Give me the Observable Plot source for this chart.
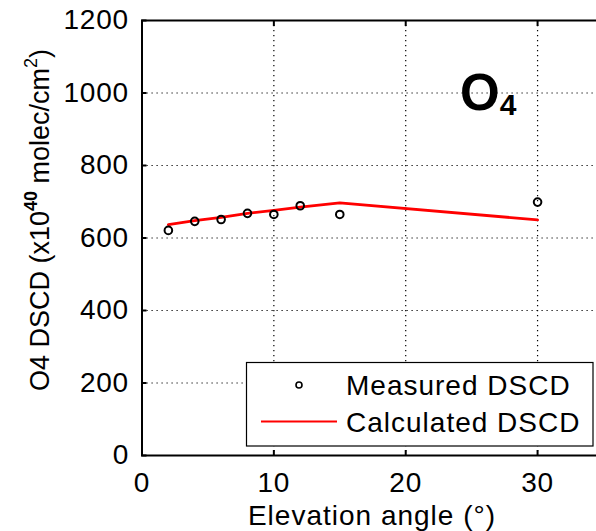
<!DOCTYPE html>
<html>
<head>
<meta charset="utf-8">
<script src="https://cdn.jsdelivr.net/npm/d3@7"></script>
<script src="https://cdn.jsdelivr.net/npm/@observablehq/plot@0.6"></script>
<style>
  html, body { margin: 0; padding: 0; background: white; overflow: hidden; }
  #chart { width: 596px; height: 531px; overflow: hidden; }
</style>
</head>
<body>
<div id="chart"></div>
<script>
// Data
const elevation = [2, 4, 6, 8, 10, 12, 15, 30];
const measured = [621, 646, 651, 668, 665, 689, 665, 699];
const calculated = [637, 648, 657, 668, 676, 685, 697, 650];
const xTicks = [0, 10, 20, 30];
const yTicks = [0, 200, 400, 600, 800, 1000, 1200];
const xLabel = "Elevation angle (°)";
const legendLabels = ["Measured DSCD", "Calculated DSCD"];

const rows = elevation.map((e, i) => ({e, m: measured[i], c: calculated[i]}));
const font = "'Liberation Sans', Arial, sans-serif";
const fs = 28, ls = "1px";

const W = 596, H = 531;
const mL = 141.5, mR = -7, mT = 20, mB = 76;

const plot = Plot.plot({
  width: W, height: H,
  marginLeft: mL, marginRight: mR, marginTop: mT, marginBottom: mB,
  style: {fontFamily: font, fontSize: fs + "px", color: "black", background: "white", overflow: "visible"},
  x: {domain: [0, 35], label: null},
  y: {domain: [0, 1200], label: null},
  marks: [
    Plot.gridX(xTicks.filter(d => d > 0), {stroke: "black", strokeOpacity: 1, strokeWidth: 1.2, strokeDasharray: "1.2,3.8"}),
    Plot.gridY(yTicks.filter(d => d > 0 && d < 1200), {stroke: "black", strokeOpacity: 1, strokeWidth: 1.2, strokeDasharray: "1.2,3.8"}),
    Plot.line(rows, {x: "e", y: "c", stroke: "#ff0000", strokeWidth: 2.8}),
    Plot.dot(rows, {x: "e", y: "m", r: 3.8, stroke: "black", strokeWidth: 2, fill: "none"}),
    Plot.frame({stroke: "black", strokeWidth: 2}),
    Plot.axisX({anchor: "bottom", ticks: xTicks, tickFormat: "d", tickSize: -5, tickPadding: 22, stroke: "black", strokeWidth: 2, fontSize: fs + "px", label: null}),
    Plot.axisX({anchor: "top", ticks: xTicks, tickSize: -5, tickFormat: () => "", stroke: "black", strokeWidth: 2, label: null}),
    Plot.axisY({anchor: "left", ticks: yTicks, tickFormat: "d", tickSize: -5, tickPadding: 18, stroke: "black", strokeWidth: 2, fontSize: fs + "px", label: null})
  ]
});

document.getElementById("chart").appendChild(plot);
const svg = d3.select(plot);
svg.selectAll('g[aria-label$="tick label"] text').attr("letter-spacing", "0.8px");

// X label
svg.append("text")
  .attr("x", 372).attr("y", 525)
  .attr("text-anchor", "middle")
  .attr("letter-spacing", ls)
  .attr("font-family", font).attr("font-size", fs)
  .attr("fill", "black")
  .text(xLabel);

// Y label with superscripts
const yl = svg.append("text")
  .attr("transform", "translate(49,220) rotate(-90)")
  .attr("text-anchor", "middle")
  .attr("font-family", font).attr("font-size", 27)
  .attr("fill", "black");
yl.append("tspan").text("O4 DSCD (x10");
yl.append("tspan").attr("font-size", 18).attr("dy", -12).attr("font-weight", "bold").text("40");
yl.append("tspan").attr("dy", 12).text(" molec/cm");
yl.append("tspan").attr("font-size", 18).attr("dy", -12).text("2");
yl.append("tspan").attr("dy", 12).text(")");

// O4 annotation
const o4 = svg.append("text")
  .attr("x", 460).attr("y", 110)
  .attr("text-anchor", "start")
  .attr("font-family", font).attr("font-weight", "bold")
  .attr("fill", "black");
o4.append("tspan").attr("font-size", 51).text("O");
o4.append("tspan").attr("font-size", 30).attr("dy", 5).text("4");

// Legend
const lg = svg.append("g").attr("text-anchor", "start");
lg.append("rect")
  .attr("x", 246.5).attr("y", 362.5).attr("width", 346.5).attr("height", 83.5)
  .attr("fill", "white").attr("stroke", "black").attr("stroke-width", 1.2);
lg.append("circle").attr("cx", 299).attr("cy", 385).attr("r", 3)
  .attr("fill", "none").attr("stroke", "black").attr("stroke-width", 1.6);
lg.append("line").attr("x1", 261).attr("x2", 337).attr("y1", 421.5).attr("y2", 421.5)
  .attr("stroke", "#ff0000").attr("stroke-width", 2);
lg.append("text").attr("x", 346).attr("y", 395)
  .attr("text-anchor", "start").attr("letter-spacing", ls)
  .attr("font-family", font).attr("font-size", fs).attr("fill", "black")
  .text(legendLabels[0]);
lg.append("text").attr("x", 346).attr("y", 431.5)
  .attr("text-anchor", "start").attr("letter-spacing", ls)
  .attr("font-family", font).attr("font-size", fs).attr("fill", "black")
  .text(legendLabels[1]);
</script>
</body>
</html>
